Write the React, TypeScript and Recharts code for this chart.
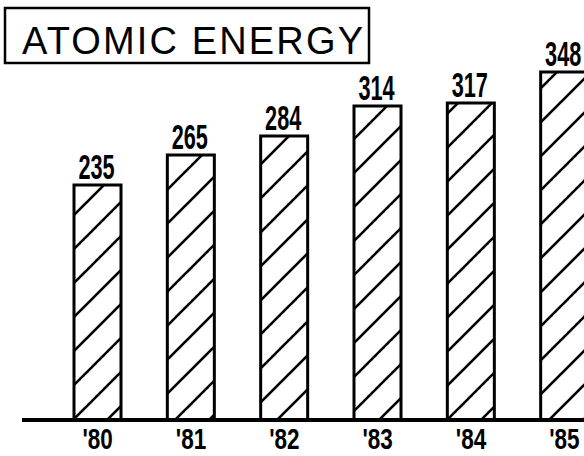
import React from "react";
import { BarChart, Bar, XAxis, YAxis, LabelList } from "recharts";

const years = ["'80", "'81", "'82", "'83", "'84", "'85"];
const values = [235, 265, 284, 314, 317, 348];
const title = "ATOMIC ENERGY";

const data = years.map((year, i) => ({ year, value: values[i] }));

const font = "'Liberation Sans', Arial, sans-serif";

const ValueLabel = (props: any) => {
  const { x, y, width, value } = props;
  const cx = Number(x) + Number(width) / 2 - 1;
  const by = Number(y) - 6;
  return (
    <g transform={`translate(${cx},${by}) scale(0.62,1)`}>
      <text
        x={0}
        y={0}
        textAnchor="middle"
        fontFamily={font}
        fontWeight="bold"
        fontSize={35}
        fill="#000"
      >
        {value}
      </text>
    </g>
  );
};

const YearTick = (props: any) => {
  const { x, y, payload } = props;
  return (
    <g transform={`translate(${Number(x)},${Number(y) + 21}) scale(0.75,1)`}>
      <text
        x={0}
        y={0}
        textAnchor="middle"
        fontFamily={font}
        fontWeight="bold"
        fontSize={30}
        fill="#000"
      >
        {payload.value}
      </text>
    </g>
  );
};

export default function App() {
  return (
    <div
      style={{
        position: "fixed",
        left: 0,
        top: 0,
        width: 584,
        height: 456,
        overflow: "hidden",
        background: "#fff",
      }}
    >
      <BarChart
        width={611}
        height={456}
        data={data}
        margin={{ top: 20, right: 0, bottom: 0, left: 22 }}
      >
        <defs>
          <pattern id="hatch" patternUnits="userSpaceOnUse" x="17" y="0" width="34" height="34">
            <rect x="0" y="0" width="34" height="34" fill="#fff" />
            <path d="M0,34 L34,0 M-17,17 L17,-17 M17,51 L51,17" stroke="#000" strokeWidth="2.6" />
          </pattern>
        </defs>
        <YAxis hide domain={[0, 400]} width={0} />
        <XAxis
          dataKey="year"
          height={36}
          tickLine={false}
          interval={0}
          axisLine={{ stroke: "#000", strokeWidth: 4 }}
          padding={{ left: 29, right: 0 }}
          tick={<YearTick />}
        />
        <Bar
          dataKey="value"
          barSize={47}
          fill="url(#hatch)"
          stroke="#000"
          strokeWidth={3}
          isAnimationActive={false}
        >
          <LabelList dataKey="value" content={<ValueLabel />} />
        </Bar>
        <rect x={5} y={8} width={364} height={55} fill="none" stroke="#000" strokeWidth={2.5} />
        <text
          x={22}
          y={54}
          fontFamily={font}
          fontSize={38}
          fill="#000"
          textLength={341}
          lengthAdjust="spacing"
        >
          {title}
        </text>
      </BarChart>
    </div>
  );
}
